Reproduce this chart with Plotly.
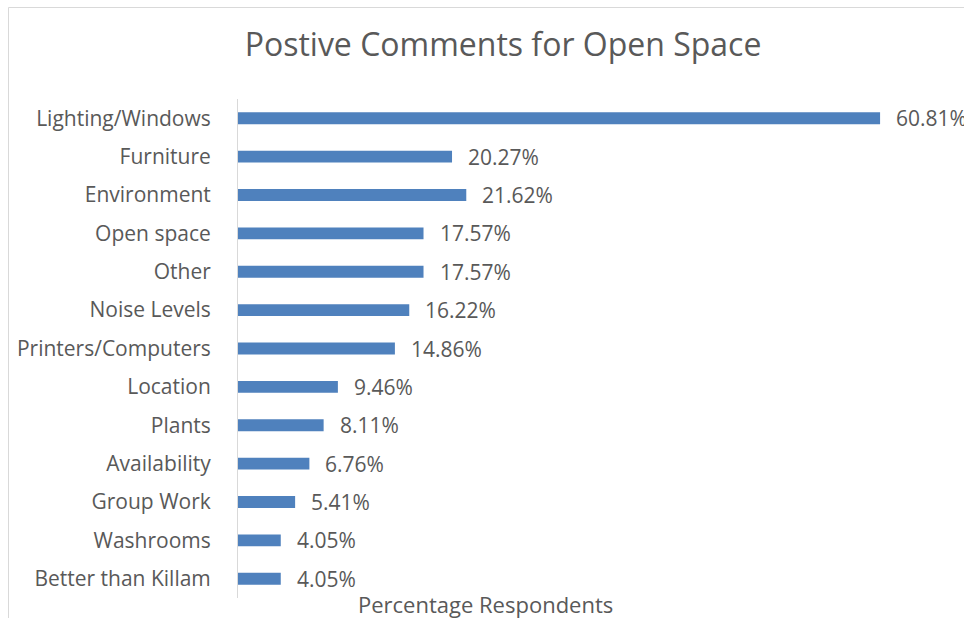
import plotly.graph_objects as go

# Categories listed top to bottom
categories = [
    "Lighting/Windows", "Furniture", "Environment", "Open space", "Other",
    "Noise Levels", "Printers/Computers", "Location", "Plants",
    "Availability", "Group Work", "Washrooms", "Better than Killam",
]
values = [60.81, 20.27, 21.62, 17.57, 17.57, 16.22, 14.86, 9.46, 8.11,
          6.76, 5.41, 4.05, 4.05]
labels = [f"{v:.2f}%" for v in values]

TEXT = "#595959"
BAR = "#4F81BD"
FONT = "Open Sans"

W, H = 964, 618
L, R, T, B = 238, 8, 99, 20
XMAX = 68.0

fig = go.Figure(go.Bar(
    x=values, y=categories, orientation="h",
    marker=dict(color=BAR, line=dict(width=0)),
    hoverinfo="skip",
))

pw, ph = W - L - R, H - T - B

# Value labels beside each bar
annotations = [
    dict(x=v, y=c, xref="x", yref="y", text=t, showarrow=False,
         xanchor="left", yanchor="middle", xshift=14,
         font=dict(family=FONT, size=21, color=TEXT))
    for v, c, t in zip(values, categories, labels)
]

# Axis title under the bars
annotations.append(dict(
    x=(485 - L) / pw, y=(H - B - 604) / ph,
    xref="paper", yref="paper", text="Percentage Respondents",
    showarrow=False, xanchor="center", yanchor="middle",
    font=dict(family=FONT, size=22, color=TEXT),
))

shapes = [
    # light chart frame
    dict(type="rect", xref="paper", yref="paper",
         x0=(8.5 - L) / pw, x1=2.0, y0=-1.0, y1=(H - B - 7.5) / ph,
         line=dict(color="#d9d9d9", width=1), fillcolor="rgba(0,0,0,0)",
         layer="below"),
]

fig.update_layout(
    width=W, height=H,
    margin=dict(l=L, r=R, t=T, b=B, pad=0),
    paper_bgcolor="white", plot_bgcolor="white",
    showlegend=False,
    bargap=0.69,
    title=dict(text="Postive Comments for Open Space",
               x=503 / W, xanchor="center", y=1 - 45 / H, yanchor="middle",
               font=dict(family=FONT, size=32, color=TEXT)),
    xaxis=dict(range=[0, XMAX], showgrid=False, zeroline=False,
               showline=False, showticklabels=False, ticks=""),
    yaxis=dict(autorange="reversed", showgrid=False, zeroline=False,
               showline=True, linecolor="#d9d9d9", linewidth=1,
               ticks="", ticklabelstandoff=22,
               tickfont=dict(family=FONT, size=21, color=TEXT)),
    annotations=annotations,
    shapes=shapes,
)

fig.write_html("out.html")
